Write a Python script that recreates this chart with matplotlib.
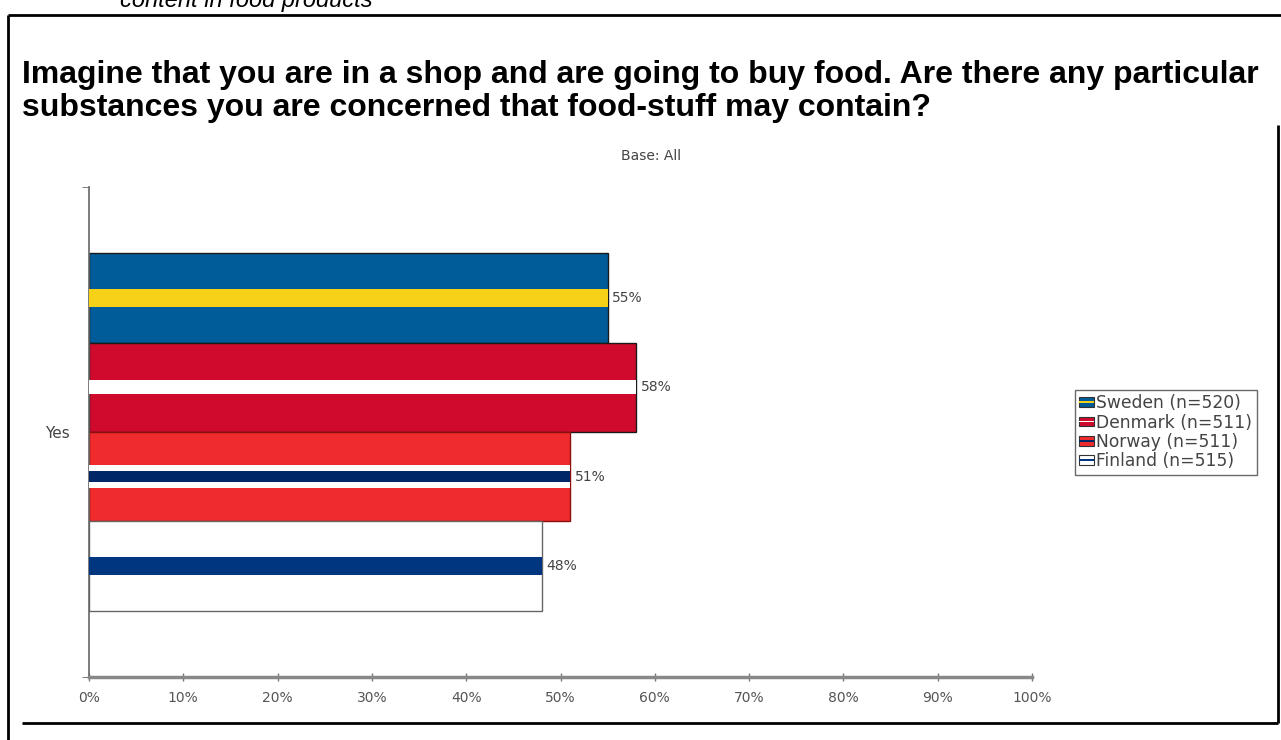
import matplotlib
matplotlib.use("Agg")
import matplotlib.pyplot as plt
from matplotlib.patches import Rectangle, Patch
from matplotlib.legend_handler import HandlerBase
from matplotlib.ticker import FixedLocator, PercentFormatter

# survey answers, share answering "Yes"
countries = ["Sweden", "Denmark", "Norway", "Finland"]
sample_sizes = [520, 511, 511, 515]
yes_share = [55, 58, 51, 48]
category = "Yes"

# flag colouring for each bar: base fill, edge, and centred stripes (colour, fraction of bar height)
FLAGS = {
    "Sweden":  {"base": "#005b99", "edge": "#1a1a1a", "stripes": [("#f7d117", 0.20)]},
    "Denmark": {"base": "#cf0a2c", "edge": "#1a1a1a", "stripes": [("#ffffff", 0.16)]},
    "Norway":  {"base": "#ef2b2d", "edge": "#8a1010", "stripes": [("#ffffff", 0.26), ("#002868", 0.12)]},
    "Finland": {"base": "#ffffff", "edge": "#666666", "stripes": [("#003580", 0.20)]},
}


class FlagHandler(HandlerBase):
    def __init__(self, flag):
        super().__init__()
        self.flag = flag

    def create_artists(self, legend, orig_handle, xdescent, ydescent, width, height, fontsize, trans):
        x0, y0 = -xdescent, -ydescent
        arts = [Rectangle((x0, y0), width, height, facecolor=self.flag["base"],
                          edgecolor="#333333", lw=0.8, transform=trans)]
        for col, frac in self.flag["stripes"]:
            arts.append(Rectangle((x0, y0 + height * (0.5 - frac / 2)), width, height * frac,
                                  facecolor=col, lw=0, transform=trans))
        return arts


W, H = 1281, 740
fig = plt.figure(figsize=(W / 100, H / 100), dpi=100)
fig.patch.set_facecolor("white")

# page decorations: borders, headings
deco = fig.add_axes([0, 0, 1, 1], zorder=0)
deco.set_xlim(0, W)
deco.set_ylim(H, 0)
deco.axis("off")
deco.plot([8, W], [15, 15], color="black", lw=2, solid_capstyle="butt")
deco.plot([8, 8], [15, H], color="black", lw=2, solid_capstyle="butt")
deco.plot([22, 1278], [723, 723], color="black", lw=2, solid_capstyle="butt")
deco.plot([1278, 1278], [125, 723], color="black", lw=2, solid_capstyle="butt")
deco.text(120, 7, "content in food products", fontsize=17, style="italic",
          family="Liberation Sans", va="baseline", ha="left", color="black")
deco.text(22, 83, "Imagine that you are in a shop and are going to buy food. Are there any particular",
          fontsize=23, fontweight="bold", family="Liberation Sans", va="baseline", ha="left")
deco.text(22, 116, "substances you are concerned that food-stuff may contain?",
          fontsize=23, fontweight="bold", family="Liberation Sans", va="baseline", ha="left")
deco.text(651, 156, "Base: All", fontsize=10, color="#444444", ha="center", va="center")

# chart area
ax = fig.add_axes([89 / W, 1 - 677 / H, (1032 - 89) / W, (677 - 187) / H], zorder=1)
ax.set_facecolor("none")

group = 0.729
h = group / len(countries)
ypos = [(i - (len(countries) - 1) / 2) * h for i in range(len(countries))]

for name, y, v in zip(countries, ypos, yes_share):
    f = FLAGS[name]
    ax.barh(y, v, height=h, color=f["base"], edgecolor=f["edge"], linewidth=1.0, zorder=2)
    for col, frac in f["stripes"]:
        ax.barh(y, v, height=h * frac, color=col, linewidth=0, zorder=3)
    ax.text(v + 0.5, y, f"{v}%", va="center", ha="left", fontsize=10, color="#444444")

ax.set_xlim(0, 100)
ax.set_ylim(0.5, -0.5)

for s in ["top", "right"]:
    ax.spines[s].set_visible(False)
ax.spines["left"].set_color("#666666")
ax.spines["left"].set_linewidth(1.2)
ax.spines["bottom"].set_color("#888888")
ax.spines["bottom"].set_linewidth(2.5)

ax.xaxis.set_major_locator(FixedLocator(range(0, 101, 10)))
ax.xaxis.set_major_formatter(PercentFormatter(decimals=0))
ax.tick_params(axis="x", direction="inout", length=6, width=1, color="#777777",
               labelsize=10, labelcolor="#555555", pad=7)

ax.set_yticks([0])
ax.set_yticklabels([category])
ax.set_yticks([-0.5, 0.5], minor=True)
ax.tick_params(axis="y", which="major", length=0, labelsize=11, labelcolor="#444444", pad=14)
ax.tick_params(axis="y", which="minor", direction="out", length=5, color="#666666")

handles = [Patch(label=f"{c} (n={n})") for c, n in zip(countries, sample_sizes)]
hmap = {hd: FlagHandler(FLAGS[c]) for hd, c in zip(handles, countries)}
leg = fig.legend(handles=handles, handler_map=hmap, loc="upper left",
                 bbox_to_anchor=(1075 / W, 1 - 390 / H), fontsize=12.3,
                 handlelength=0.85, handleheight=0.5, handletextpad=0.15,
                 labelspacing=0.08, borderpad=0.25, borderaxespad=0,
                 frameon=True, fancybox=False, edgecolor="#444444")
leg.get_frame().set_linewidth(1.0)
for t in leg.get_texts():
    t.set_color("#444444")

fig.savefig("out.png", dpi=100, facecolor="white")
